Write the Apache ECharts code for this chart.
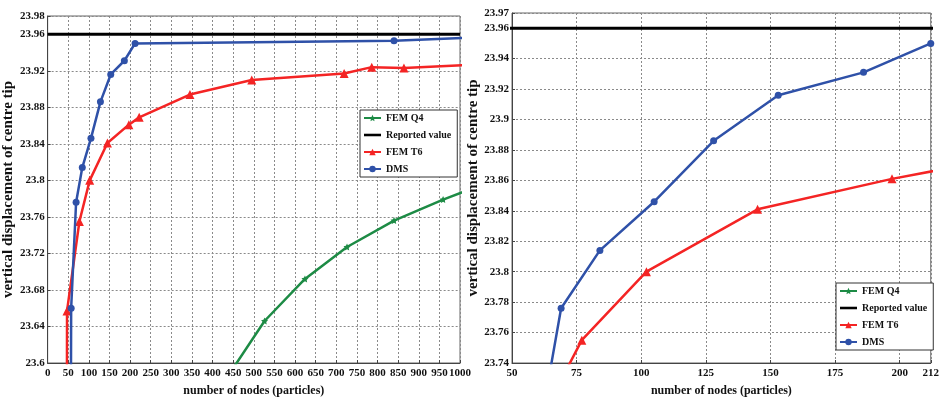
<!DOCTYPE html>
<html>
<head>
<meta charset="utf-8">
<script src="https://cdn.jsdelivr.net/npm/echarts@6/dist/echarts.min.js"></script>
<style>
  html, body { margin: 0; padding: 0; background: #fff; }
  #chart { width: 942px; height: 404px; }
</style>
</head>
<body>
<div id="chart"></div>
<script>
// Centre-tip vertical displacement versus number of nodes (particles)
const seriesNames = ['FEM Q4', 'Reported value', 'FEM T6', 'DMS'];

// FEM Q4 (quadrilateral elements)
const q4Nodes  = [420, 526, 624, 726, 840, 959, 1100];
const q4Values = [23.574, 23.646, 23.692, 23.727, 23.756, 23.779, 23.803];

// Reported reference value
const reportedNodes = [0, 1000];
const reportedValue = 23.96;

// FEM T6 (six-node triangles)
const t6Nodes  = [46, 47, 77, 102, 145, 197, 222, 345, 495, 719, 786, 864, 1100];
const t6Values = [23.3, 23.657, 23.755, 23.80, 23.841, 23.861, 23.869, 23.894, 23.910, 23.917, 23.924, 23.923, 23.928];

// DMS
const dmsNodes  = [55, 57, 69, 84, 105, 128, 153, 186, 212, 840, 1100];
const dmsValues = [23.3, 23.660, 23.776, 23.814, 23.846, 23.886, 23.916, 23.931, 23.950, 23.953, 23.9575];

// Axis ranges / ticks for the full view and the zoomed view
const fullX  = { min: 0, max: 1000, interval: 50 };
const fullY  = { min: 23.6, max: 23.98, interval: 0.04 };
const zoomX  = { min: 50, max: 212, interval: 25 };
const zoomY  = { min: 23.74, max: 23.97, interval: 0.02 };

const colors = { q4: '#1d8b45', ref: '#000000', t6: '#f42424', dms: '#2f51a8' };
const FONT = '"Liberation Serif", "Times New Roman", serif';
const starPath = 'path://M0,-10 L2.9,-4 9.5,-3.1 4.7,1.5 5.9,8.1 0,5 -5.9,8.1 -4.7,1.5 -9.5,-3.1 -2.9,-4Z';
const barIcon = 'path://M0,0H20V3H0Z';

const zip = (xs, ys) => xs.map((x, i) => [x, ys[i]]);

function axisPair(gridIndex, xr, yr, yNameGap) {
  const grid = '#8a8a8a';
  const x = {
    type: 'value', gridIndex, min: xr.min, max: xr.max, interval: xr.interval,
    name: 'number of nodes (particles)', nameLocation: 'middle', nameGap: 22,
    nameTextStyle: { fontFamily: FONT, fontWeight: 'bold', fontSize: 12, color: '#111' },
    axisLine: { show: true, lineStyle: { color: '#444', width: 1 } },
    axisTick: { show: true, inside: true, length: 3, lineStyle: { color: '#444' } },
    axisLabel: { fontFamily: FONT, fontWeight: 'bold', fontSize: 11, color: '#111', margin: 5,
                 hideOverlap: false, formatter: v => String(v) },
    splitLine: { show: true, lineStyle: { color: grid, type: [2, 2], width: 1 } }
  };
  const y = {
    type: 'value', gridIndex, min: yr.min, max: yr.max, interval: yr.interval,
    name: 'vertical displacement of centre tip', nameLocation: 'middle', nameGap: yNameGap, nameRotate: 90,
    nameTextStyle: { fontFamily: FONT, fontWeight: 'bold', fontSize: 15, color: '#111' },
    axisLine: { show: true, lineStyle: { color: '#444', width: 1 } },
    axisTick: { show: true, inside: true, length: 3, lineStyle: { color: '#444' } },
    axisLabel: { fontFamily: FONT, fontWeight: 'bold', fontSize: 11, color: '#111', margin: 3 },
    splitLine: { show: true, lineStyle: { color: grid, type: [2, 2], width: 1 } }
  };
  return [x, y];
}

function seriesFor(idx) {
  return [
    { name: 'FEM Q4', type: 'line', xAxisIndex: idx, yAxisIndex: idx, data: zip(q4Nodes, q4Values),
      symbol: starPath, symbolSize: 7, color: colors.q4, lineStyle: { width: 2.5 }, clip: true, z: 3 },
    { name: 'Reported value', type: 'line', xAxisIndex: idx, yAxisIndex: idx,
      data: reportedNodes.map(n => [n, reportedValue]),
      symbol: 'none', color: colors.ref, lineStyle: { width: 3 }, clip: true, z: 4 },
    { name: 'FEM T6', type: 'line', xAxisIndex: idx, yAxisIndex: idx, data: zip(t6Nodes, t6Values),
      symbol: 'triangle', symbolSize: 9, color: colors.t6, lineStyle: { width: 2.5 }, clip: true, z: 5 },
    { name: 'DMS', type: 'line', xAxisIndex: idx, yAxisIndex: idx, data: zip(dmsNodes, dmsValues),
      symbol: 'circle', symbolSize: 7, color: colors.dms, lineStyle: { width: 2.5 }, clip: true, z: 6 }
  ];
}

function legendAt(left, top) {
  return {
    data: seriesNames.map(n => n === 'Reported value' ? { name: n, icon: barIcon } : n),
    orient: 'vertical', left, top,
    backgroundColor: '#fff', borderColor: '#333', borderWidth: 1,
    padding: [3, 6, 3, 3], itemGap: 7, itemWidth: 17, itemHeight: 8,
    textStyle: { fontFamily: FONT, fontWeight: 'bold', fontSize: 10, color: '#111' },
    selectedMode: false
  };
}

const [x0, y0] = axisPair(0, fullX, fullY, 22);
const [x1, y1] = axisPair(1, zoomX, zoomY, 24);

const option = {
  animation: false,
  backgroundColor: '#fff',
  grid: [
    { left: 42, top: 16, width: 418, height: 347, show: true, borderColor: '#666', borderWidth: 1, backgroundColor: 'transparent' },
    { left: 512, top: 13, width: 422, height: 350, show: true, borderColor: '#666', borderWidth: 1, backgroundColor: 'transparent' }
  ],
  xAxis: [x0, x1],
  yAxis: [y0, y1],
  legend: [legendAt(360, 110), legendAt(836, 283)],
  series: [...seriesFor(0), ...seriesFor(1)]
};

echarts.init(document.getElementById('chart'), null, { renderer: 'canvas' }).setOption(option);
</script>
</body>
</html>
